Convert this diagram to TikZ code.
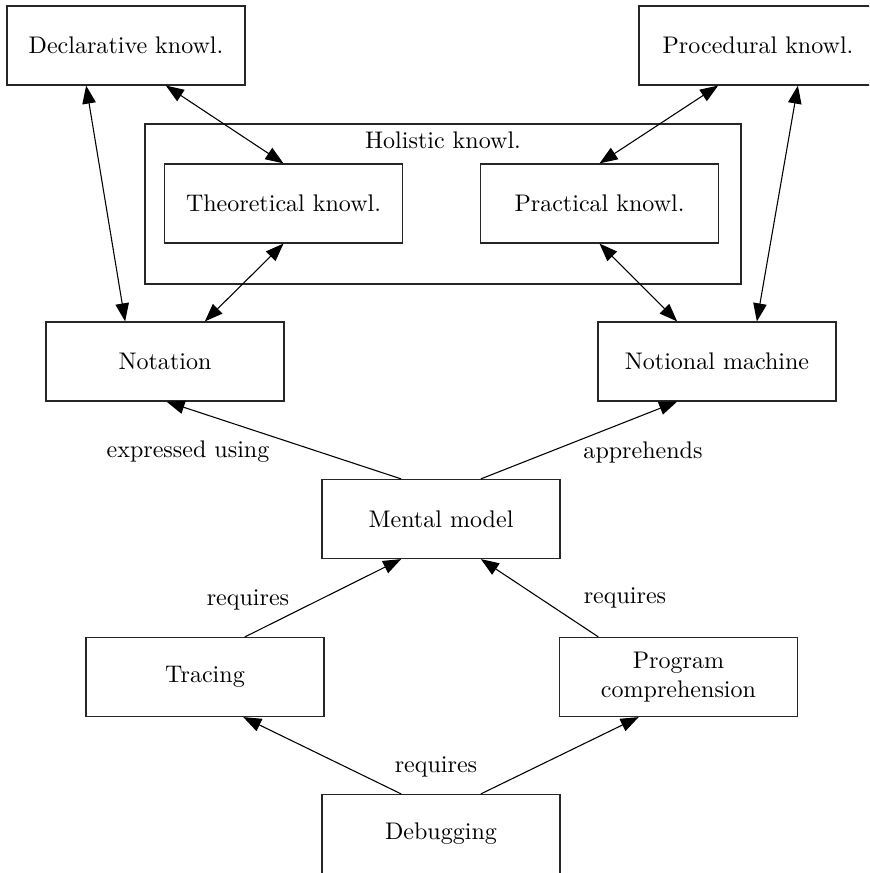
\documentclass[tikz,border=0pt]{standalone}
\usetikzlibrary{arrows.meta,calc}
\begin{document}
\begin{tikzpicture}[x=0.4161pt,y=-0.4161pt,
  box/.style={draw=black!85,line width=0.5pt,rectangle,inner sep=0pt,minimum width=99.03pt,minimum height=32.87pt,align=center,font=\normalsize},
  link/.style={line width=0.45pt,-{Triangle[length=7.5pt,width=5.6pt]}},
  biglink/.style={line width=0.45pt,{Triangle[length=7.5pt,width=5.6pt]}-{Triangle[length=7.5pt,width=5.6pt]}},
  lbl/.style={inner sep=0pt}]
\useasboundingbox (0,0) rectangle (869,873);
\clip (0,0) rectangle (869,873);

% knowledge boxes
\node[box] (decl) at (126,45.5) {Declarative knowl.};
\node[box] (proc) at (758,45.5) {Procedural knowl.};
\node[draw=black!85,line width=0.5pt,rectangle,inner sep=0pt,minimum width=248pt,minimum height=66.6pt] (holistic) at (443,204) {};
\node[lbl] (holtitle) at (443,140) {Holistic knowl.};
\node[box] (theo) at (283.5,203.5) {Theoretical knowl.};
\node[box] (prac) at (599.5,203.5) {Practical knowl.};

% middle layer
\node[box] (notation) at (165,361.5) {Notation};
\node[box] (notional) at (717,361.5) {Notional machine};
\node[box] (mental) at (441,519) {Mental model};

% skills
\node[box] (tracing) at (205,677) {Tracing};
\node[box] (prog) at (678.5,677) {Program\\comprehension};
\node[box] (debug) at (441,834) {Debugging};

% two-way links between kinds of knowledge
\draw[biglink] ($(decl.south west)!1/3!(decl.south east)$) -- ($(notation.north west)!1/3!(notation.north east)$);
\draw[biglink] ($(decl.south west)!2/3!(decl.south east)$) -- (theo.north);
\draw[biglink] ($(proc.south west)!1/3!(proc.south east)$) -- (prac.north);
\draw[biglink] ($(proc.south west)!2/3!(proc.south east)$) -- ($(notional.north west)!2/3!(notional.north east)$);
\draw[biglink] (theo.south) -- ($(notation.north west)!2/3!(notation.north east)$);
\draw[biglink] (prac.south) -- ($(notional.north west)!1/3!(notional.north east)$);

% mental model relations
\draw[link] ($(mental.north west)!1/3!(mental.north east)$) -- ($(notation.south)+(1.5,0)$);
\draw[link] ($(mental.north west)!2/3!(mental.north east)$) -- ($(notional.south west)!1/3!(notional.south east)$);
\node[lbl] (expr) at (188,452) {expressed using};
\node[lbl] (appr) at (643,452) {apprehends};

\draw[link] ($(tracing.north west)!2/3!(tracing.north east)$) -- ($(mental.south west)!1/3!(mental.south east)$);
\draw[link] ($(prog.north west)!0.165!(prog.north east)$) -- ($(mental.south west)!2/3!(mental.south east)$);
\node[lbl] (req1) at (248,600) {requires};
\node[lbl] (req2) at (625,598) {requires};

\draw[link] ($(debug.north west)!1/3!(debug.north east)$) -- ($(tracing.south west)!0.66!(tracing.south east)$);
\draw[link] ($(debug.north west)!2/3!(debug.north east)$) -- ($(prog.south west)!1/3!(prog.south east)$);
\node[lbl] (req3) at (436,767) {requires};
\end{tikzpicture}
\end{document}
